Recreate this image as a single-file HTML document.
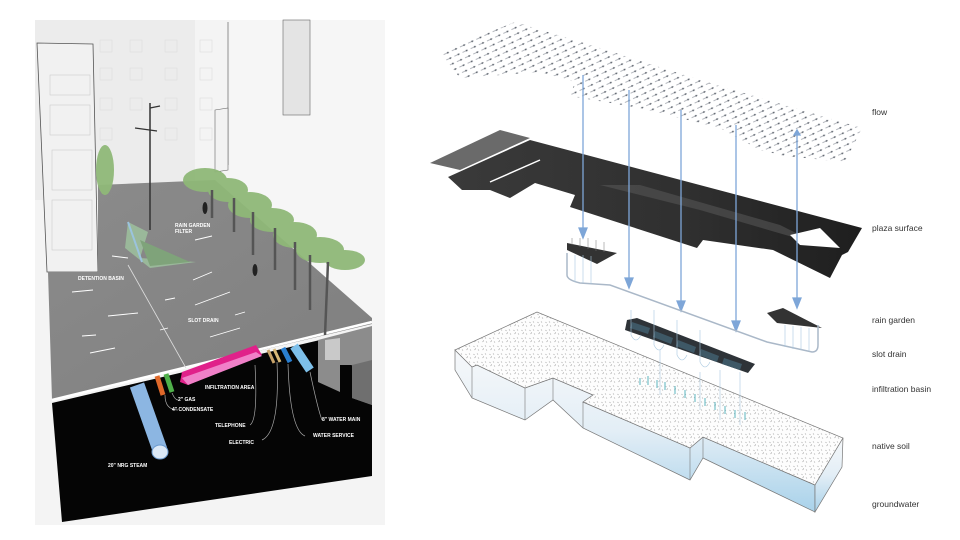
<!DOCTYPE html>
<html><head><meta charset="utf-8"><style>
html,body{margin:0;padding:0;background:#fff}
svg{display:block}
text{font-family:"Liberation Sans",sans-serif}
</style></head><body>
<svg width="960" height="540" viewBox="0 0 960 540" xmlns="http://www.w3.org/2000/svg">
<defs>
<pattern id="flowp" width="9" height="6" patternUnits="userSpaceOnUse" patternTransform="rotate(-25)">
<line x1="1" y1="3" x2="7" y2="3" stroke="#6c7480" stroke-width="0.6"/>
<circle cx="5.5" cy="3" r="0.9" fill="#3d4550"/>
</pattern>
<pattern id="soilp" width="8" height="8" patternUnits="userSpaceOnUse">
<rect width="8" height="8" fill="#fdfdfd"/>
<path d="M1 2l2 1M5 1l1 2M2 6l2-1M6 5l1 2M4 4l-1 1" stroke="#aaa" stroke-width="0.5"/>
</pattern>
<linearGradient id="dk" x1="0" y1="0" x2="1" y2="0">
<stop offset="0" stop-color="#3a3a3a"/><stop offset="0.6" stop-color="#2f2f2f"/><stop offset="1" stop-color="#1e1e1e"/>
</linearGradient>
<linearGradient id="side" x1="0" y1="0" x2="0" y2="1">
<stop offset="0" stop-color="#f6f8fa"/><stop offset="0.5" stop-color="#e3eef6"/><stop offset="1" stop-color="#a9d2ea"/>
</linearGradient>
<linearGradient id="plz" x1="0" y1="0" x2="1" y2="1">
<stop offset="0" stop-color="#8b8b8b"/><stop offset="1" stop-color="#7f7f7f"/>
</linearGradient>
</defs>

<!-- LEFT PANEL -->
<rect x="35" y="20" width="350" height="505" fill="#f4f4f4"/>
<rect x="35" y="20" width="160" height="180" fill="#ececec"/>
<rect x="230" y="20" width="155" height="300" fill="#f6f6f6"/>
<line x1="228" y1="22" x2="228" y2="165" stroke="#777" stroke-width="0.8"/>
<rect x="283" y="20" width="27" height="95" fill="#e4e4e4" stroke="#666" stroke-width="0.6"/>
<g stroke="#ddd" stroke-width="0.6" fill="none">
<rect x="100" y="40" width="12" height="12"/><rect x="130" y="40" width="12" height="12"/><rect x="165" y="40" width="12" height="12"/><rect x="200" y="40" width="12" height="12"/>
<rect x="100" y="68" width="12" height="12"/><rect x="130" y="68" width="12" height="12"/><rect x="165" y="68" width="12" height="12"/><rect x="200" y="68" width="12" height="12"/>
<rect x="100" y="98" width="12" height="12"/><rect x="130" y="98" width="12" height="12"/><rect x="165" y="98" width="12" height="12"/><rect x="200" y="98" width="12" height="12"/>
<rect x="100" y="128" width="12" height="12"/><rect x="165" y="128" width="12" height="12"/><rect x="200" y="128" width="12" height="12"/>
</g>
<polygon points="37,43 93,44 98,272 47,272" fill="#f1f1f1" stroke="#555" stroke-width="0.8"/>
<g stroke="#ccc" stroke-width="0.6" fill="none"><rect x="50" y="75" width="40" height="20"/><rect x="50" y="105" width="40" height="30"/><rect x="52" y="150" width="40" height="40"/><rect x="52" y="200" width="40" height="50"/></g>
<polygon points="215,110 228,108 228,170 215,172" fill="#f2f2f2" stroke="#666" stroke-width="0.6"/>
<polygon points="98,185 215,180 372,318 372,324 52,400 48,272 98,272" fill="url(#plz)"/>
<line x1="52" y1="400" x2="372" y2="322" stroke="#fff" stroke-width="2.5"/>
<polygon points="128,222 148,232 140,258 196,262 150,268 125,248" fill="#9ab89a"/>
<polygon points="140,240 190,262 150,266" fill="#7fa37a"/>
<line x1="128" y1="222" x2="142" y2="262" stroke="#9bc3dd" stroke-width="2"/>
<polygon points="52,403 320,340 340,342 372,405 372,476 62,522" fill="#050505"/>
<polygon points="318,340 372,326 372,405 352,398 352,365 340,365 340,392 318,382" fill="#8c8c8c"/>
<polygon points="325,340 340,338 340,360 325,360" fill="#c9c9c9"/>
<polygon points="352,365 372,360 372,405 352,398" fill="#6f6f6f"/>
<line x1="137" y1="385" x2="160" y2="450" stroke="#8cb6e2" stroke-width="15"/>
<ellipse cx="160" cy="452" rx="8" ry="7" fill="#dce9f7" stroke="#6a9ad0"/>
<line x1="157" y1="376" x2="163" y2="395" stroke="#e0692a" stroke-width="5"/>
<line x1="166" y1="374" x2="172" y2="392" stroke="#4fb04a" stroke-width="5"/>
<polygon points="182,372 256,345 262,355 188,385 180,382" fill="#e0218a"/>
<polygon points="182,378 256,352 262,356 188,385" fill="#f080c8"/>
<line x1="268" y1="350" x2="274" y2="363" stroke="#c8a36a" stroke-width="3"/>
<line x1="274" y1="349" x2="280" y2="362" stroke="#d8b878" stroke-width="3"/>
<line x1="283" y1="348" x2="290" y2="362" stroke="#2a7fd0" stroke-width="5"/>
<line x1="294" y1="346" x2="310" y2="370" stroke="#7ec0ea" stroke-width="9"/>
<g stroke="#aaa" stroke-width="0.7" fill="none">
<path d="M165 395 Q165 410 178 410"/><path d="M255 365 Q258 420 250 425"/><path d="M277 362 Q280 432 262 440"/><path d="M288 364 Q290 430 305 436"/><path d="M310 372 Q318 410 322 420"/><path d="M172 393 Q175 400 178 400"/>
</g>
<line x1="128" y1="265" x2="186" y2="368" stroke="#ddd" stroke-width="0.8"/>
<line x1="150" y1="103" x2="150" y2="230" stroke="#333" stroke-width="1.5"/>
<line x1="135" y1="128" x2="157" y2="131" stroke="#333" stroke-width="1.2"/>
<line x1="150" y1="108" x2="160" y2="106" stroke="#333" stroke-width="1.2"/>
<g fill="#8fb878" opacity="0.95">
<ellipse cx="105" cy="170" rx="9" ry="25"/>
<ellipse cx="205" cy="180" rx="22" ry="12"/><ellipse cx="228" cy="190" rx="20" ry="12"/>
<ellipse cx="250" cy="205" rx="22" ry="13"/><ellipse cx="272" cy="220" rx="22" ry="12"/>
<ellipse cx="295" cy="235" rx="22" ry="13"/><ellipse cx="320" cy="250" rx="24" ry="13"/>
<ellipse cx="345" cy="260" rx="20" ry="10"/>
</g>
<g stroke="#555" stroke-width="2.5">
<line x1="212" y1="190" x2="212" y2="218"/><line x1="234" y1="198" x2="234" y2="232"/><line x1="253" y1="212" x2="253" y2="255"/>
<line x1="275" y1="228" x2="275" y2="270"/><line x1="295" y1="242" x2="295" y2="290"/><line x1="310" y1="255" x2="310" y2="310"/>
<line x1="328" y1="262" x2="325" y2="335"/>
</g>
<g fill="#222"><ellipse cx="205" cy="208" rx="2.5" ry="6"/><ellipse cx="255" cy="270" rx="2.5" ry="6"/></g>
<g stroke="#fff" stroke-width="0.9">
<line x1="72" y1="292" x2="93" y2="290"/><line x1="108" y1="316" x2="138" y2="313"/><line x1="82" y1="336" x2="96" y2="335"/>
<line x1="90" y1="353" x2="115" y2="348"/><line x1="193" y1="280" x2="212" y2="272"/><line x1="195" y1="305" x2="230" y2="292"/>
<line x1="210" y1="337" x2="240" y2="328"/><line x1="165" y1="300" x2="175" y2="298"/><line x1="235" y1="315" x2="245" y2="312"/>
<line x1="195" y1="240" x2="212" y2="236"/><line x1="112" y1="256" x2="128" y2="258"/><line x1="160" y1="330" x2="168" y2="328"/>
</g>
<g fill="#fff" font-size="5" font-weight="bold">
<text x="175" y="227">RAIN GARDEN</text><text x="175" y="233">FILTER</text>
<text x="78" y="280">DETENTION BASIN</text>
<text x="188" y="322">SLOT DRAIN</text>
<text x="205" y="389">INFILTRATION AREA</text>
<text x="178" y="401">2" GAS</text>
<text x="172" y="411">4" CONDENSATE</text>
<text x="215" y="427">TELEPHONE</text>
<text x="229" y="444">ELECTRIC</text>
<text x="313" y="437">WATER SERVICE</text>
<text x="322" y="421">8" WATER MAIN</text>
<text x="108" y="467">20" NRG STEAM</text>
</g>

<!-- RIGHT PANEL -->
<polygon points="440,52 515,22 600,48 700,80 862,128 845,162 785,156 760,150 720,128 640,108 570,96 575,82 540,72 460,78" fill="url(#flowp)" opacity="0.85"/>
<polygon points="430,163 500,130 530,138 460,170" fill="#6a6a6a"/>
<polygon points="448,177 530,140 862,228 848,252 842,255 830,278 773,250 703,240 697,248 570,207 575,195 535,183 510,198 490,190 462,190" fill="url(#dk)"/>
<line x1="490" y1="182" x2="540" y2="160" stroke="#fff" stroke-width="1.5"/>
<polygon points="600,185 700,210 820,245 780,225 640,185" fill="#555" opacity="0.6"/>
<polygon points="790,235 820,228 840,248 800,245" fill="#fff"/>
<g stroke="#7ea6d8" stroke-width="1.3" fill="#7ea6d8">
<line x1="583" y1="75" x2="583" y2="232"/><polygon points="579,228 587,228 583,238"/>
<line x1="629" y1="90" x2="629" y2="282"/><polygon points="625,278 633,278 629,288"/>
<line x1="681" y1="110" x2="681" y2="305"/><polygon points="677,301 685,301 681,311"/>
<line x1="736" y1="125" x2="736" y2="325"/><polygon points="732,321 740,321 736,331"/>
<line x1="797" y1="132" x2="797" y2="302"/><polygon points="793,298 801,298 797,308"/><polygon points="794,135 800,135 797,130"/>
</g>
<polygon points="567,243 617,253 597,264 567,250" fill="#333"/>
<g stroke="#777" stroke-width="0.5"><line x1="572" y1="238" x2="572" y2="245"/><line x1="580" y1="238" x2="580" y2="247"/><line x1="588" y1="238" x2="588" y2="249"/><line x1="596" y1="240" x2="596" y2="251"/><line x1="604" y1="242" x2="604" y2="252"/></g>
<polygon points="767,313 783,308 822,328 777,323" fill="#333"/>
<path d="M567 253 L567 275 Q567 280 580 283 L610 285 L767 342 L812 352 Q818 352 818 345 L818 325" fill="none" stroke="#aab8c8" stroke-width="1.5"/>
<g stroke="#a8c8e0" stroke-width="0.6">
<line x1="575" y1="255" x2="575" y2="282"/><line x1="583" y1="255" x2="583" y2="283"/><line x1="591" y1="256" x2="591" y2="284"/>
<line x1="785" y1="325" x2="785" y2="347"/><line x1="793" y1="326" x2="793" y2="349"/><line x1="801" y1="327" x2="801" y2="350"/><line x1="809" y1="328" x2="809" y2="351"/>
</g>
<polygon points="455,350 472,367 477,365 525,388 553,378 593,395 583,402 690,448 703,437 815,485 815,512 703,458 690,480 583,428 553,400 525,420 472,398 455,370" fill="url(#side)" stroke="#777" stroke-width="0.7"/>
<polygon points="455,350 537,312 843,438 815,485 703,437 690,448 583,402 593,395 553,378 525,388 477,365 472,367" fill="url(#soilp)" stroke="#777" stroke-width="0.7"/>
<polygon points="815,485 843,438 842,467 815,512" fill="url(#side)" stroke="#777" stroke-width="0.7"/>
<g stroke="#777" stroke-width="0.6"><line x1="472" y1="367" x2="472" y2="398"/><line x1="525" y1="388" x2="525" y2="420"/><line x1="553" y1="378" x2="553" y2="400"/><line x1="583" y1="402" x2="583" y2="428"/><line x1="690" y1="448" x2="690" y2="480"/><line x1="703" y1="437" x2="703" y2="458"/></g>
<polygon points="627,320 637,318 755,364 748,373 625,330" fill="#2e3338"/>
<g fill="#3e5866"><polygon points="632,322 650,328 648,334 630,328"/><polygon points="655,331 673,338 671,344 653,337"/><polygon points="678,340 696,347 694,353 676,346"/><polygon points="701,349 719,356 717,362 699,355"/><polygon points="724,358 742,364 740,370 722,364"/></g>
<g stroke="#a8c8e0" stroke-width="0.6" fill="none">
<path d="M631 310 V335 Q636 345 641 335"/><path d="M654 310 V345 Q659 355 664 345"/><path d="M677 320 V355 Q682 365 687 355"/><path d="M700 330 V362 Q705 372 710 362"/>
<line x1="700" y1="372" x2="700" y2="410"/><line x1="720" y1="370" x2="720" y2="420"/><line x1="740" y1="372" x2="740" y2="425"/><line x1="660" y1="350" x2="660" y2="395"/>
</g>
<g stroke="#5ab5c0" stroke-width="1" fill="#5ab5c0">
<line x1="640" y1="385" x2="640" y2="378"/><line x1="648" y1="385" x2="648" y2="376"/><line x1="657" y1="388" x2="657" y2="380"/><line x1="665" y1="390" x2="665" y2="382"/>
<line x1="675" y1="394" x2="675" y2="386"/><line x1="685" y1="398" x2="685" y2="390"/><line x1="695" y1="402" x2="695" y2="394"/><line x1="705" y1="406" x2="705" y2="398"/>
<line x1="715" y1="410" x2="715" y2="402"/><line x1="725" y1="414" x2="725" y2="406"/><line x1="735" y1="418" x2="735" y2="410"/><line x1="745" y1="420" x2="745" y2="412"/>
</g>
<g font-size="8.5" fill="#333">
<text x="872" y="115">flow</text>
<text x="872" y="231">plaza surface</text>
<text x="872" y="323">rain garden</text>
<text x="872" y="357">slot drain</text>
<text x="872" y="392">infiltration basin</text>
<text x="872" y="449">native soil</text>
<text x="872" y="507">groundwater</text>
</g>
</svg>
</body></html>
